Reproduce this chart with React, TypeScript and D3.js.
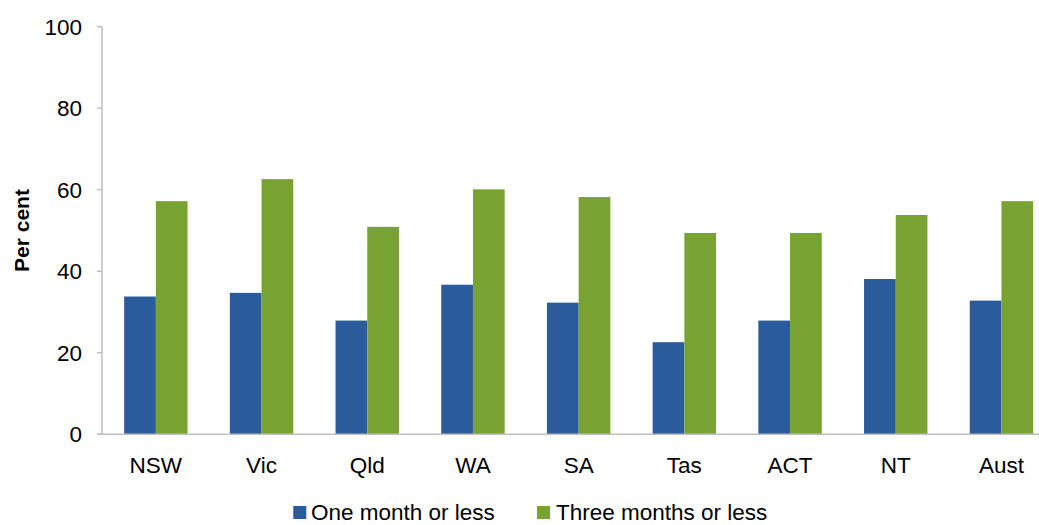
import React from "react";
import * as d3 from "d3";

const categories = ["NSW", "Vic", "Qld", "WA", "SA", "Tas", "ACT", "NT", "Aust"];
const oneMonth = [33.8, 34.7, 27.9, 36.7, 32.3, 22.6, 27.9, 38.1, 32.8];
const threeMonths = [57.2, 62.6, 50.9, 60.1, 58.2, 49.4, 49.4, 53.8, 57.2];
const seriesNames = ["One month or less", "Three months or less"];
const yTicks = [0, 20, 40, 60, 80, 100];

const W = 1039;
const H = 525;
const FONT = "'Liberation Sans', Arial, sans-serif";
const colors = ["#2A5B9B", "#78A232"];
const axisColor = "#BFBFBF";

export default function App() {
  const left = 102;
  const step = 105.7;
  const x = d3
    .scaleBand<string>()
    .domain(categories)
    .range([left + 1, left + 1 + step * categories.length])
    .paddingInner(0.4)
    .paddingOuter(0.2);
  const xs = d3.scaleBand<string>().domain(seriesNames).range([0, x.bandwidth()]);
  const y = d3.scaleLinear().domain([0, 100]).range([434.3, 26.7]);
  const series = [oneMonth, threeMonths];

  return (
    <svg
      width={W}
      height={H}
      style={{ position: "absolute", left: 0, top: 0, background: "#fff" }}
      fontFamily={FONT}
    >
      {series.map((vals, si) =>
        categories.map((c, i) => (
          <rect
            key={`${si}-${c}`}
            x={(x(c) ?? 0) + (xs(seriesNames[si]) ?? 0)}
            y={y(vals[i])}
            width={xs.bandwidth()}
            height={y(0) - y(vals[i])}
            fill={colors[si]}
          />
        ))
      )}
      {/* y axis */}
      <line x1={left} x2={left} y1={y(100)} y2={y(0)} stroke={axisColor} strokeWidth={1.5} />
      {yTicks.map((t) => (
        <g key={t}>
          <line x1={left - 5} x2={left} y1={y(t)} y2={y(t)} stroke={axisColor} strokeWidth={1.5} />
          <text
            x={82}
            y={y(t)}
            dy="0.36em"
            textAnchor="end"
            fontSize={22.5}
            fill="#000"
          >
            {t}
          </text>
        </g>
      ))}
      {/* x axis */}
      <line x1={left - 5} x2={W} y1={y(0)} y2={y(0)} stroke={axisColor} strokeWidth={1.5} />
      {categories.map((c) => (
        <text
          key={c}
          x={(x(c) ?? 0) + x.bandwidth() / 2}
          y={473.3}
          textAnchor="middle"
          fontSize={22.5}
          fill="#000"
        >
          {c}
        </text>
      ))}
      <text
        transform={`translate(29, ${y(50)}) rotate(-90)`}
        textAnchor="middle"
        fontSize={21}
        fontWeight="bold"
        fill="#000"
      >
        Per cent
      </text>
      {/* legend */}
      <rect x={293.3} y={506} width={13} height={13} fill={colors[0]} />
      <text x={311} y={519.5} fontSize={22.5} fill="#000">
        {seriesNames[0]}
      </text>
      <rect x={537} y={506} width={13} height={13} fill={colors[1]} />
      <text x={556} y={519.5} fontSize={22.5} fill="#000">
        {seriesNames[1]}
      </text>
    </svg>
  );
}
